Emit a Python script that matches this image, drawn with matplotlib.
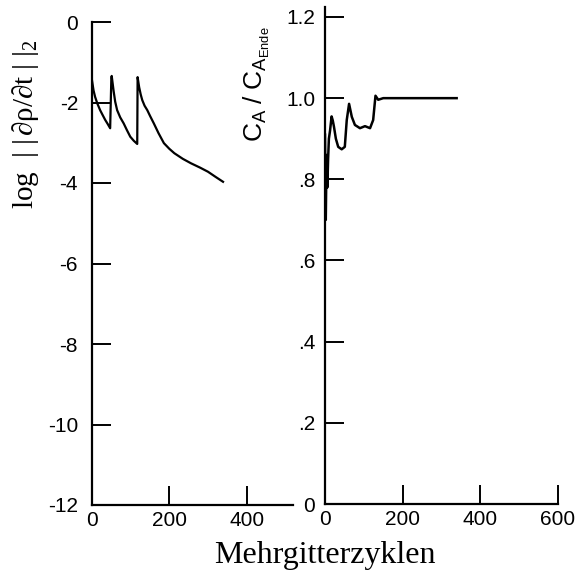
import matplotlib
matplotlib.use("Agg")
import matplotlib.pyplot as plt

# Residuum (log ||drho/dt||_2) ueber Mehrgitterzyklen
zyk_res = [0, 4, 8, 14, 21, 28, 34, 41, 47, 50, 51, 56, 60, 65, 73, 82, 90, 99, 108, 117, 118,
           122, 126, 130, 136, 143, 150, 160, 172, 186, 200, 213, 235, 256, 280, 300, 320, 339]
log_res = [-1.45, -1.70, -1.86, -2.03, -2.19, -2.32, -2.43, -2.54, -2.64, -1.40, -1.34, -1.72,
           -1.98, -2.19, -2.37, -2.52, -2.68, -2.85, -2.95, -3.03, -1.37, -1.62, -1.80, -1.94,
           -2.08, -2.19, -2.33, -2.52, -2.76, -3.01, -3.15, -3.26, -3.40, -3.51, -3.62, -3.72,
           -3.85, -3.97]

# Auftriebsbeiwert bezogen auf Endwert
zyk_ca = [0, 1, 2, 3, 4, 5, 6, 8, 10, 13, 17, 20, 23, 28, 34, 43, 51, 56, 62, 69, 77, 90,
          103, 116, 124, 130, 137, 150, 200, 250, 300, 339]
ca_rel = [0.91, 0.80, 0.70, 0.78, 0.86, 0.82, 0.78, 0.85, 0.90, 0.92, 0.955, 0.945, 0.93, 0.90,
          0.88, 0.874, 0.88, 0.946, 0.986, 0.954, 0.934, 0.926, 0.931, 0.926, 0.946, 1.006,
          0.996, 1.0, 1.0, 1.0, 1.0, 1.0]

xt_links = [0, 200, 400]
yt_links = [0, -2, -4, -6, -8, -10, -12]
xt_rechts = [0, 200, 400, 600]
yt_rechts = [0, 0.2, 0.4, 0.6, 0.8, 1.0, 1.2]
yl_rechts = ["0", ".2", ".4", ".6", ".8", "1.0", "1.2"]

plt.rcParams['font.family'] = ['Liberation Sans', 'DejaVu Sans']
plt.rcParams['mathtext.fontset'] = 'custom'
plt.rcParams['mathtext.rm'] = 'Liberation Serif'
plt.rcParams['mathtext.it'] = 'Liberation Serif:italic'
plt.rcParams['mathtext.sf'] = 'Liberation Sans'

fig = plt.figure(figsize=(5.82, 5.79), dpi=100)
ax1 = fig.add_axes([92/582, 1-505/579, 201/582, 483/579])
ax2 = fig.add_axes([325/582, 1-504/579, 233/582, 497/579])

for ax in (ax1, ax2):
    for s in ('top', 'right'):
        ax.spines[s].set_visible(False)
    for s in ('left', 'bottom'):
        ax.spines[s].set_linewidth(1.6)
    ax.tick_params(direction='in', length=14, width=1.4, labelsize=15)

ax1.plot(zyk_res, log_res, color='black', lw=1.6)
ax1.set_xlim(0, 520)
ax1.set_ylim(-12, 0)
ax1.set_xticks(xt_links)
ax1.set_yticks(yt_links)
ax1.set_yticklabels([str(v) for v in yt_links])
ax1.tick_params(axis='y', pad=10)
ax1.tick_params(axis='x', pad=4)

ax2.plot(zyk_ca, ca_rel, color='black', lw=1.8)
ax2.set_xlim(0, 600)
ax2.set_ylim(0, 1.2246)
ax2.set_xticks(xt_rechts)
ax2.set_yticks(yt_rechts)
ax2.set_yticklabels(yl_rechts)
ax2.tick_params(axis='y', pad=7)
ax2.tick_params(axis='x', pad=4)

fig.text(26/582, 1-124/579, r'$\mathrm{log\ \ |\ |\,∂ρ/∂t\ |\ |}_2$',
         rotation=90, ha='center', va='center', fontsize=21)
fig.text(257/582, 1-84/579, r'$\mathsf{C_A\ /\ C_{A_{Ende}}}$',
         rotation=90, ha='center', va='center', fontsize=19)
fig.text(325/582, 1-556/579, 'Mehrgitterzyklen', family=['Liberation Serif', 'DejaVu Serif'],
         ha='center', va='center', fontsize=23)

fig.savefig('out.png', dpi=100)
